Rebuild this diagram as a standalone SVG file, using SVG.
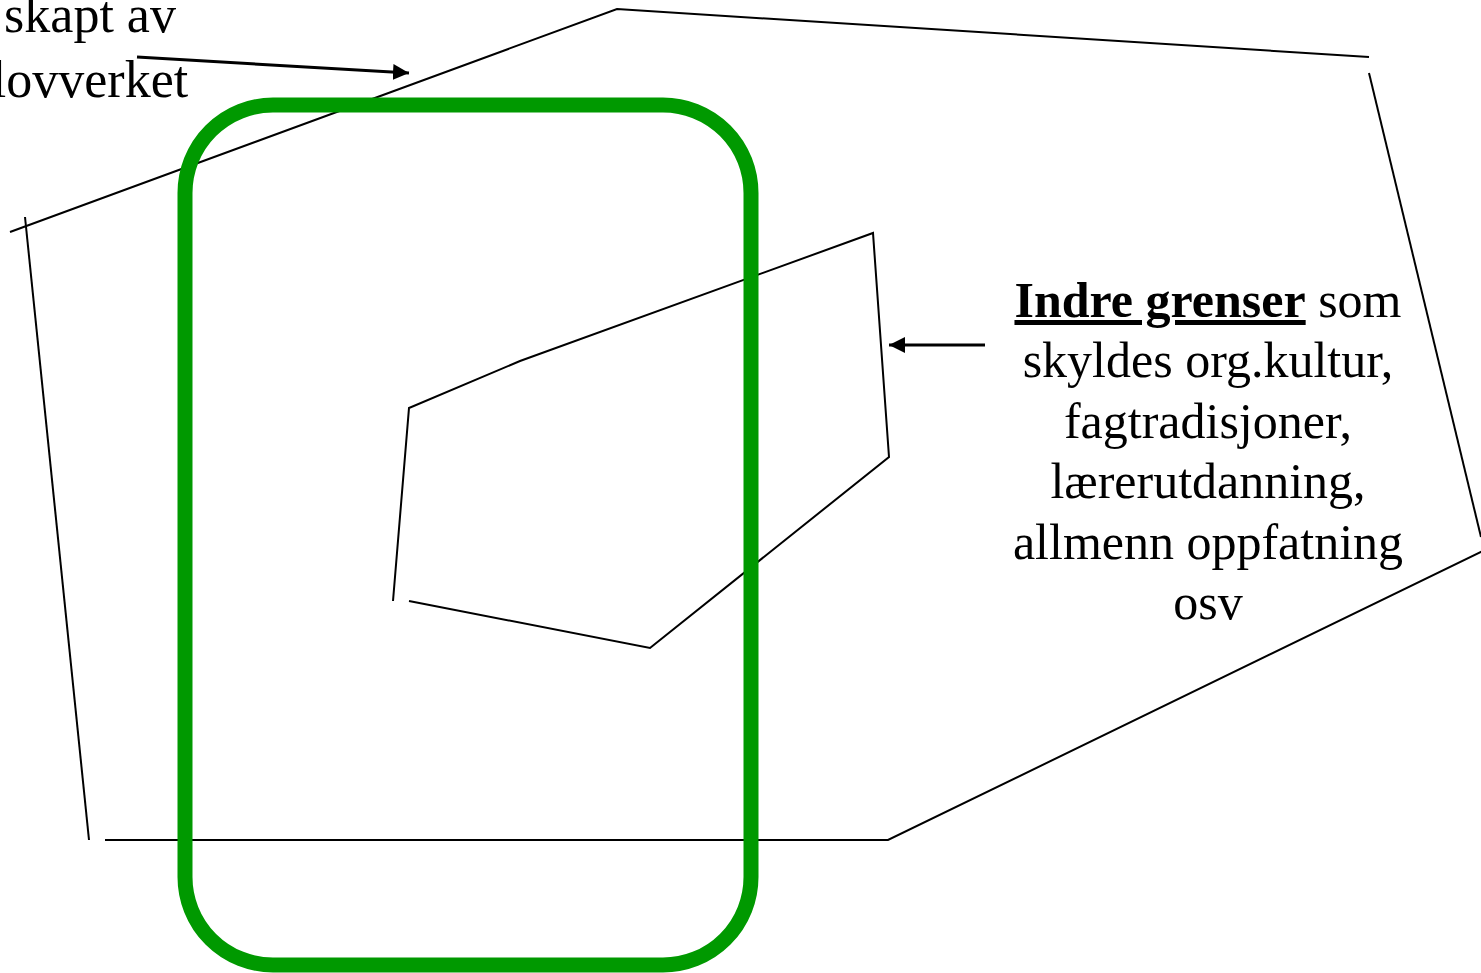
<svg xmlns="http://www.w3.org/2000/svg" width="1481" height="973" viewBox="0 0 1481 973">
<style>
.thin{fill:none;stroke:#000;stroke-width:2;stroke-linejoin:miter}
.arr{fill:none;stroke:#000;stroke-width:3}
.lbl{font-family:"Liberation Serif","Times New Roman",serif;fill:#000;text-anchor:middle}
</style>
<defs>
<marker id="ah" markerUnits="userSpaceOnUse" markerWidth="18" markerHeight="16" refX="16" refY="8" orient="auto">
<path d="M0,0 L16,8 L0,16 Z" fill="#000"/>
</marker>
</defs>
<rect width="1481" height="973" fill="#fff"/>
<g id="outer-boundary">
<polyline class="thin" points="10,232 617,9 1369,57"/>
<polyline class="thin" points="1369,73 1481,537"/>
<polyline class="thin" points="1483,551 888,840 105,840"/>
<polyline class="thin" points="89,840 25,217"/>
</g>
<g id="inner-boundary">
<polyline class="thin" points="409,601 650,648 889,457 873,233 520,361 409,408 393,601"/>
</g>
<g id="green-frame">
<rect x="185" y="105" width="566" height="860" rx="88" ry="88" fill="none" stroke="#009900" stroke-width="15"/>
</g>
<g id="label-outer">
<text class="lbl" font-size="52"><tspan x="90" y="32">skapt av</tspan><tspan x="90" y="97">lovverket</tspan></text>
</g>
<g id="label-inner">
<text class="lbl" font-size="50"><tspan x="1208" y="317"><tspan font-weight="bold" text-decoration="underline">Indre grenser</tspan> som</tspan><tspan x="1208" y="377">skyldes org.kultur,</tspan><tspan x="1208" y="438">fagtradisjoner,</tspan><tspan x="1208" y="498">lærerutdanning,</tspan><tspan x="1208" y="559">allmenn oppfatning</tspan><tspan x="1208" y="619">osv</tspan></text>
</g>
<g id="connectors">
<line class="arr" x1="137" y1="57" x2="409" y2="73" marker-end="url(#ah)"/>
<line class="arr" x1="985" y1="345" x2="889" y2="345" marker-end="url(#ah)"/>
</g>
</svg>
